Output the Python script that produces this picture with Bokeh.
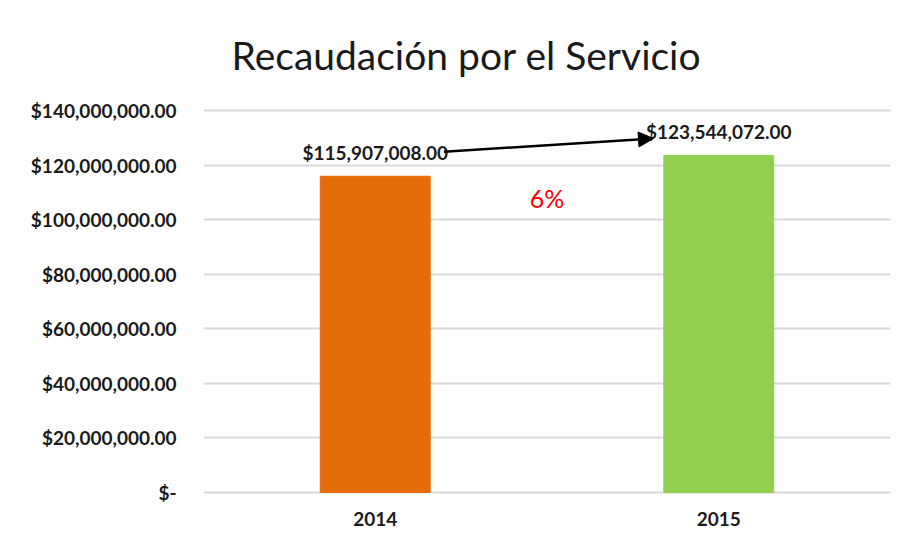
from bokeh.plotting import figure
from bokeh.models import ColumnDataSource, LabelSet, Label, Arrow, NormalHead, FixedTicker
from bokeh.core.properties import value
from bokeh.embed import file_html
from bokeh.resources import INLINE

years = ["2014", "2015"]
values = [115907008.00, 123544072.00]
colors = ["#E46C0A", "#92D050"]
value_labels = ["$115,907,008.00", "$123,544,072.00"]
tick_values = [0, 20000000, 40000000, 60000000, 80000000, 100000000, 120000000, 140000000]
tick_labels = ["$-", "$20,000,000.00", "$40,000,000.00", "$60,000,000.00", "$80,000,000.00",
               "$100,000,000.00", "$120,000,000.00", "$140,000,000.00"]
growth_text = "6%"
title_text = "Recaudación por el Servicio"

src = ColumnDataSource(dict(x=years, top=values, color=colors, label=value_labels))

p = figure(x_range=years, y_range=(-0.75e6, 140.75e6), width=900, height=534,
           output_backend="svg", toolbar_location=None,
           min_border_left=203, min_border_right=10, min_border_top=108, min_border_bottom=40)
p.x_range.range_padding = 0
p.outline_line_color = None
p.background_fill_color = "white"
p.border_fill_color = "white"

p.title.text = title_text
p.title.text_font = "Lato"
p.title.text_font_style = "normal"
p.title.text_font_size = "39px"
p.title.text_color = "#1a1a1a"
p.title.align = "left"
p.title.vertical_align = "top"
p.title.offset = 28
p.title.standoff = 58

p.vbar(x="x", top="top", width=0.32, color="color", source=src)

p.yaxis.ticker = FixedTicker(ticks=tick_values)
p.yaxis.major_label_overrides = {v: l for v, l in zip(tick_values, tick_labels)}
p.yaxis.major_label_text_font = "Lato"
p.yaxis.major_label_text_font_style = "bold"
p.yaxis.major_label_text_font_size = "19px"
p.yaxis.major_label_text_color = "#1a1a1a"
p.yaxis.major_label_standoff = 21
p.yaxis.axis_line_color = None
p.yaxis.major_tick_line_color = None
p.yaxis.minor_tick_line_color = None

p.xaxis.major_label_text_font = "Lato"
p.xaxis.major_label_text_font_style = "bold"
p.xaxis.major_label_text_font_size = "19px"
p.xaxis.major_label_text_color = "#1a1a1a"
p.xaxis.major_label_standoff = 11
p.xaxis.axis_line_color = None
p.xaxis.major_tick_line_color = None
p.xaxis.minor_tick_line_color = None

p.xgrid.grid_line_color = None
p.ygrid.grid_line_color = "#d9d9d9"
p.ygrid.grid_line_width = 2

p.add_layout(LabelSet(x="x", y="top", text="label", source=src, y_offset=24,
                      text_font=value("Lato"), text_font_style="bold", text_font_size="19px",
                      text_color="#1a1a1a", text_align="center", text_baseline="middle"))

p.add_layout(Arrow(end=NormalHead(size=15, fill_color="black", line_color="black"),
                   x_start=0.70, y_start=values[0] + 9.0e6,
                   x_end=1.31, y_end=values[1] + 6.2e6,
                   line_color="black", line_width=2.5))

p.add_layout(Label(x=1.0, y=108e6, text=growth_text, text_font="Lato", text_font_size="25px",
                   text_color="#ff0000", text_align="center", text_baseline="middle"))

open("out.html", "w").write(file_html(p, INLINE))
